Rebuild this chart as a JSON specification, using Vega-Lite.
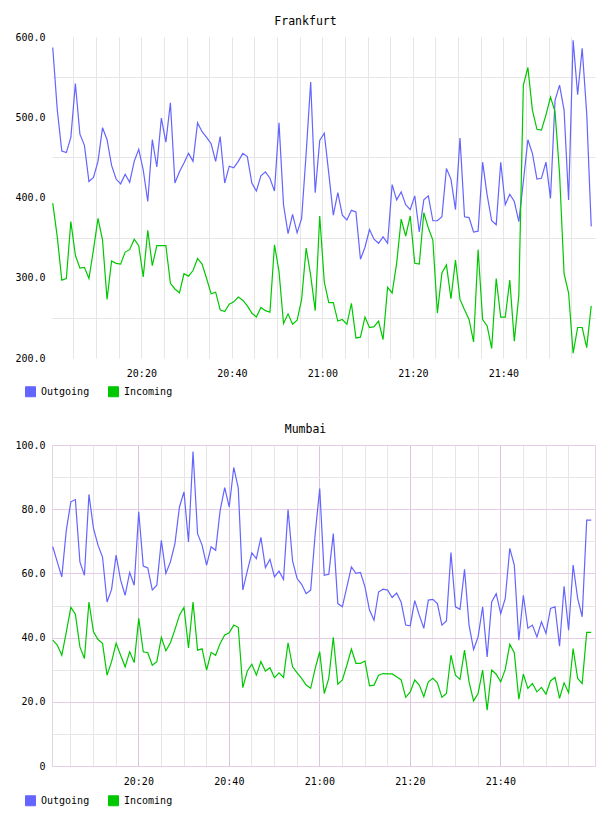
{
"$schema": "https://vega.github.io/schema/vega-lite/v6.json",
"background": "white",
"padding": {"left": 7, "top": 15, "right": 0, "bottom": 0},
"config": {
  "font": "DejaVu Sans Mono",
  "view": {"stroke": null},
  "axis": {"domain": false, "ticks": false, "labelFont": "DejaVu Sans Mono", "labelFontSize": 10, "labelColor": "#000", "title": null, "gridWidth": 1},
  "title": {"font": "DejaVu Sans Mono", "fontSize": 11.5, "fontWeight": "normal", "color": "#000", "anchor": "middle", "dx": -18, "offset": 5, "baseline": "alphabetic"},
  "concat": {"spacing": 24}
},
"resolve": {"scale": {"color": "shared"}, "legend": {"color": "independent"}},
"datasets": {
"fra": [
{"t":"2024-01-01T20:00:25Z","Outgoing":587,"Incoming":393},
{"t":"2024-01-01T20:01:25Z","Outgoing":509,"Incoming":351},
{"t":"2024-01-01T20:02:25Z","Outgoing":458,"Incoming":297},
{"t":"2024-01-01T20:03:25Z","Outgoing":456,"Incoming":299},
{"t":"2024-01-01T20:04:25Z","Outgoing":475,"Incoming":370},
{"t":"2024-01-01T20:05:25Z","Outgoing":542,"Incoming":328},
{"t":"2024-01-01T20:06:25Z","Outgoing":479,"Incoming":312},
{"t":"2024-01-01T20:07:25Z","Outgoing":465,"Incoming":313},
{"t":"2024-01-01T20:08:25Z","Outgoing":420,"Incoming":299},
{"t":"2024-01-01T20:09:25Z","Outgoing":425,"Incoming":335},
{"t":"2024-01-01T20:10:25Z","Outgoing":445,"Incoming":374},
{"t":"2024-01-01T20:11:25Z","Outgoing":487,"Incoming":347},
{"t":"2024-01-01T20:12:25Z","Outgoing":472,"Incoming":273},
{"t":"2024-01-01T20:13:25Z","Outgoing":440,"Incoming":321},
{"t":"2024-01-01T20:14:25Z","Outgoing":423,"Incoming":318},
{"t":"2024-01-01T20:15:25Z","Outgoing":417,"Incoming":317},
{"t":"2024-01-01T20:16:25Z","Outgoing":429,"Incoming":332},
{"t":"2024-01-01T20:17:25Z","Outgoing":419,"Incoming":335},
{"t":"2024-01-01T20:18:25Z","Outgoing":445,"Incoming":348},
{"t":"2024-01-01T20:19:25Z","Outgoing":460,"Incoming":340},
{"t":"2024-01-01T20:20:25Z","Outgoing":434,"Incoming":301},
{"t":"2024-01-01T20:21:25Z","Outgoing":395,"Incoming":359},
{"t":"2024-01-01T20:22:25Z","Outgoing":472,"Incoming":315},
{"t":"2024-01-01T20:23:25Z","Outgoing":438,"Incoming":340},
{"t":"2024-01-01T20:24:25Z","Outgoing":499,"Incoming":340},
{"t":"2024-01-01T20:25:25Z","Outgoing":469,"Incoming":340},
{"t":"2024-01-01T20:26:25Z","Outgoing":518,"Incoming":293},
{"t":"2024-01-01T20:27:25Z","Outgoing":418,"Incoming":286},
{"t":"2024-01-01T20:28:25Z","Outgoing":432,"Incoming":281},
{"t":"2024-01-01T20:29:25Z","Outgoing":443,"Incoming":305},
{"t":"2024-01-01T20:30:25Z","Outgoing":455,"Incoming":302},
{"t":"2024-01-01T20:31:25Z","Outgoing":445,"Incoming":309},
{"t":"2024-01-01T20:32:25Z","Outgoing":493,"Incoming":324},
{"t":"2024-01-01T20:33:25Z","Outgoing":482,"Incoming":317},
{"t":"2024-01-01T20:34:25Z","Outgoing":475,"Incoming":299},
{"t":"2024-01-01T20:35:25Z","Outgoing":467,"Incoming":280},
{"t":"2024-01-01T20:36:25Z","Outgoing":445,"Incoming":282},
{"t":"2024-01-01T20:37:25Z","Outgoing":476,"Incoming":260},
{"t":"2024-01-01T20:38:25Z","Outgoing":418,"Incoming":258},
{"t":"2024-01-01T20:39:25Z","Outgoing":439,"Incoming":267},
{"t":"2024-01-01T20:40:25Z","Outgoing":437,"Incoming":270},
{"t":"2024-01-01T20:41:25Z","Outgoing":445,"Incoming":276},
{"t":"2024-01-01T20:42:25Z","Outgoing":455,"Incoming":272},
{"t":"2024-01-01T20:43:25Z","Outgoing":451,"Incoming":265},
{"t":"2024-01-01T20:44:25Z","Outgoing":418,"Incoming":256},
{"t":"2024-01-01T20:45:25Z","Outgoing":408,"Incoming":251},
{"t":"2024-01-01T20:46:25Z","Outgoing":427,"Incoming":263},
{"t":"2024-01-01T20:47:25Z","Outgoing":432,"Incoming":259},
{"t":"2024-01-01T20:48:25Z","Outgoing":424,"Incoming":257},
{"t":"2024-01-01T20:49:25Z","Outgoing":408,"Incoming":341},
{"t":"2024-01-01T20:50:25Z","Outgoing":493,"Incoming":308},
{"t":"2024-01-01T20:51:25Z","Outgoing":391,"Incoming":243},
{"t":"2024-01-01T20:52:25Z","Outgoing":355,"Incoming":255},
{"t":"2024-01-01T20:53:25Z","Outgoing":379,"Incoming":242},
{"t":"2024-01-01T20:54:25Z","Outgoing":356,"Incoming":247},
{"t":"2024-01-01T20:55:25Z","Outgoing":374,"Incoming":273},
{"t":"2024-01-01T20:56:25Z","Outgoing":455,"Incoming":337},
{"t":"2024-01-01T20:57:25Z","Outgoing":544,"Incoming":303},
{"t":"2024-01-01T20:58:25Z","Outgoing":406,"Incoming":259},
{"t":"2024-01-01T20:59:25Z","Outgoing":471,"Incoming":377},
{"t":"2024-01-01T21:00:25Z","Outgoing":480,"Incoming":295},
{"t":"2024-01-01T21:01:25Z","Outgoing":430,"Incoming":269},
{"t":"2024-01-01T21:02:25Z","Outgoing":378,"Incoming":269},
{"t":"2024-01-01T21:03:25Z","Outgoing":406,"Incoming":246},
{"t":"2024-01-01T21:04:25Z","Outgoing":378,"Incoming":248},
{"t":"2024-01-01T21:05:25Z","Outgoing":372,"Incoming":242},
{"t":"2024-01-01T21:06:25Z","Outgoing":384,"Incoming":268},
{"t":"2024-01-01T21:07:25Z","Outgoing":382,"Incoming":225},
{"t":"2024-01-01T21:08:25Z","Outgoing":323,"Incoming":226},
{"t":"2024-01-01T21:09:25Z","Outgoing":338,"Incoming":251},
{"t":"2024-01-01T21:10:25Z","Outgoing":360,"Incoming":238},
{"t":"2024-01-01T21:11:25Z","Outgoing":348,"Incoming":239},
{"t":"2024-01-01T21:12:25Z","Outgoing":343,"Incoming":246},
{"t":"2024-01-01T21:13:25Z","Outgoing":351,"Incoming":223},
{"t":"2024-01-01T21:14:25Z","Outgoing":343,"Incoming":288},
{"t":"2024-01-01T21:15:25Z","Outgoing":416,"Incoming":281},
{"t":"2024-01-01T21:16:25Z","Outgoing":397,"Incoming":318},
{"t":"2024-01-01T21:17:25Z","Outgoing":407,"Incoming":373},
{"t":"2024-01-01T21:18:25Z","Outgoing":391,"Incoming":352},
{"t":"2024-01-01T21:19:25Z","Outgoing":385,"Incoming":377},
{"t":"2024-01-01T21:20:25Z","Outgoing":402,"Incoming":318},
{"t":"2024-01-01T21:21:25Z","Outgoing":357,"Incoming":317},
{"t":"2024-01-01T21:22:25Z","Outgoing":397,"Incoming":381},
{"t":"2024-01-01T21:23:25Z","Outgoing":402,"Incoming":362},
{"t":"2024-01-01T21:24:25Z","Outgoing":371,"Incoming":347},
{"t":"2024-01-01T21:25:25Z","Outgoing":371,"Incoming":256},
{"t":"2024-01-01T21:26:25Z","Outgoing":376,"Incoming":306},
{"t":"2024-01-01T21:27:25Z","Outgoing":436,"Incoming":316},
{"t":"2024-01-01T21:28:25Z","Outgoing":423,"Incoming":274},
{"t":"2024-01-01T21:29:25Z","Outgoing":385,"Incoming":322},
{"t":"2024-01-01T21:30:25Z","Outgoing":474,"Incoming":273},
{"t":"2024-01-01T21:31:25Z","Outgoing":376,"Incoming":260},
{"t":"2024-01-01T21:32:25Z","Outgoing":375,"Incoming":248},
{"t":"2024-01-01T21:33:25Z","Outgoing":357,"Incoming":220},
{"t":"2024-01-01T21:34:25Z","Outgoing":358,"Incoming":335},
{"t":"2024-01-01T21:35:25Z","Outgoing":444,"Incoming":248},
{"t":"2024-01-01T21:36:25Z","Outgoing":403,"Incoming":240},
{"t":"2024-01-01T21:37:25Z","Outgoing":371,"Incoming":212},
{"t":"2024-01-01T21:38:25Z","Outgoing":366,"Incoming":299},
{"t":"2024-01-01T21:39:25Z","Outgoing":444,"Incoming":251},
{"t":"2024-01-01T21:40:25Z","Outgoing":391,"Incoming":251},
{"t":"2024-01-01T21:41:25Z","Outgoing":404,"Incoming":297},
{"t":"2024-01-01T21:42:25Z","Outgoing":395,"Incoming":221},
{"t":"2024-01-01T21:43:25Z","Outgoing":370,"Incoming":278},
{"t":"2024-01-01T21:44:25Z","Outgoing":420,"Incoming":540},
{"t":"2024-01-01T21:45:25Z","Outgoing":472,"Incoming":562},
{"t":"2024-01-01T21:46:25Z","Outgoing":455,"Incoming":509},
{"t":"2024-01-01T21:47:25Z","Outgoing":423,"Incoming":485},
{"t":"2024-01-01T21:48:25Z","Outgoing":424,"Incoming":484},
{"t":"2024-01-01T21:49:25Z","Outgoing":444,"Incoming":503},
{"t":"2024-01-01T21:50:25Z","Outgoing":399,"Incoming":525},
{"t":"2024-01-01T21:51:25Z","Outgoing":521,"Incoming":507},
{"t":"2024-01-01T21:52:25Z","Outgoing":540,"Incoming":430},
{"t":"2024-01-01T21:53:25Z","Outgoing":509,"Incoming":305},
{"t":"2024-01-01T21:54:25Z","Outgoing":397,"Incoming":281},
{"t":"2024-01-01T21:55:25Z","Outgoing":596,"Incoming":206},
{"t":"2024-01-01T21:56:25Z","Outgoing":528,"Incoming":238},
{"t":"2024-01-01T21:57:25Z","Outgoing":586,"Incoming":238},
{"t":"2024-01-01T21:58:25Z","Outgoing":505,"Incoming":213},
{"t":"2024-01-01T21:59:25Z","Outgoing":364,"Incoming":265}
],
"mum": [
{"t":"2024-01-01T20:01:05Z","Outgoing":68.3,"Incoming":39.2},
{"t":"2024-01-01T20:02:05Z","Outgoing":63.6,"Incoming":37.7},
{"t":"2024-01-01T20:03:05Z","Outgoing":58.9,"Incoming":34.5},
{"t":"2024-01-01T20:04:05Z","Outgoing":73.5,"Incoming":41.8},
{"t":"2024-01-01T20:05:05Z","Outgoing":82.3,"Incoming":49.4},
{"t":"2024-01-01T20:06:05Z","Outgoing":83.0,"Incoming":47.3},
{"t":"2024-01-01T20:07:05Z","Outgoing":63.6,"Incoming":37.1},
{"t":"2024-01-01T20:08:05Z","Outgoing":59.4,"Incoming":33.5},
{"t":"2024-01-01T20:09:05Z","Outgoing":84.6,"Incoming":51.1},
{"t":"2024-01-01T20:10:05Z","Outgoing":74.0,"Incoming":41.8},
{"t":"2024-01-01T20:11:05Z","Outgoing":68.8,"Incoming":39.4},
{"t":"2024-01-01T20:12:05Z","Outgoing":65.1,"Incoming":38.2},
{"t":"2024-01-01T20:13:05Z","Outgoing":51.1,"Incoming":28.3},
{"t":"2024-01-01T20:14:05Z","Outgoing":55.0,"Incoming":32.5},
{"t":"2024-01-01T20:15:05Z","Outgoing":65.7,"Incoming":38.2},
{"t":"2024-01-01T20:16:05Z","Outgoing":57.9,"Incoming":34.5},
{"t":"2024-01-01T20:17:05Z","Outgoing":53.2,"Incoming":30.9},
{"t":"2024-01-01T20:18:05Z","Outgoing":60.3,"Incoming":35.6},
{"t":"2024-01-01T20:19:05Z","Outgoing":56.3,"Incoming":32.2},
{"t":"2024-01-01T20:20:05Z","Outgoing":79.2,"Incoming":46.0},
{"t":"2024-01-01T20:21:05Z","Outgoing":62.3,"Incoming":35.6},
{"t":"2024-01-01T20:22:05Z","Outgoing":61.7,"Incoming":35.3},
{"t":"2024-01-01T20:23:05Z","Outgoing":54.8,"Incoming":31.4},
{"t":"2024-01-01T20:24:05Z","Outgoing":56.3,"Incoming":32.5},
{"t":"2024-01-01T20:25:05Z","Outgoing":70.3,"Incoming":40.1},
{"t":"2024-01-01T20:26:05Z","Outgoing":60.0,"Incoming":35.9},
{"t":"2024-01-01T20:27:05Z","Outgoing":63.6,"Incoming":38.4},
{"t":"2024-01-01T20:28:05Z","Outgoing":69.3,"Incoming":42.5},
{"t":"2024-01-01T20:29:05Z","Outgoing":80.7,"Incoming":47.0},
{"t":"2024-01-01T20:30:05Z","Outgoing":85.4,"Incoming":49.4},
{"t":"2024-01-01T20:31:05Z","Outgoing":69.8,"Incoming":36.8},
{"t":"2024-01-01T20:32:05Z","Outgoing":98.0,"Incoming":51.1},
{"t":"2024-01-01T20:33:05Z","Outgoing":72.4,"Incoming":36.1},
{"t":"2024-01-01T20:34:05Z","Outgoing":68.8,"Incoming":36.5},
{"t":"2024-01-01T20:35:05Z","Outgoing":62.6,"Incoming":29.9},
{"t":"2024-01-01T20:36:05Z","Outgoing":68.3,"Incoming":35.4},
{"t":"2024-01-01T20:37:05Z","Outgoing":67.2,"Incoming":34.5},
{"t":"2024-01-01T20:38:05Z","Outgoing":79.7,"Incoming":38.2},
{"t":"2024-01-01T20:39:05Z","Outgoing":86.7,"Incoming":40.8},
{"t":"2024-01-01T20:40:05Z","Outgoing":80.7,"Incoming":41.5},
{"t":"2024-01-01T20:41:05Z","Outgoing":93.0,"Incoming":43.9},
{"t":"2024-01-01T20:42:05Z","Outgoing":86.6,"Incoming":43.2},
{"t":"2024-01-01T20:43:05Z","Outgoing":54.8,"Incoming":24.4},
{"t":"2024-01-01T20:44:05Z","Outgoing":60.8,"Incoming":29.6},
{"t":"2024-01-01T20:45:05Z","Outgoing":66.4,"Incoming":31.7},
{"t":"2024-01-01T20:46:05Z","Outgoing":64.6,"Incoming":28.3},
{"t":"2024-01-01T20:47:05Z","Outgoing":71.2,"Incoming":32.5},
{"t":"2024-01-01T20:48:05Z","Outgoing":61.8,"Incoming":29.6},
{"t":"2024-01-01T20:49:05Z","Outgoing":64.4,"Incoming":30.6},
{"t":"2024-01-01T20:50:05Z","Outgoing":58.9,"Incoming":27.5},
{"t":"2024-01-01T20:51:05Z","Outgoing":60.7,"Incoming":29.0},
{"t":"2024-01-01T20:52:05Z","Outgoing":58.1,"Incoming":27.6},
{"t":"2024-01-01T20:53:05Z","Outgoing":79.9,"Incoming":38.4},
{"t":"2024-01-01T20:54:05Z","Outgoing":63.9,"Incoming":30.9},
{"t":"2024-01-01T20:55:05Z","Outgoing":58.4,"Incoming":29.0},
{"t":"2024-01-01T20:56:05Z","Outgoing":56.6,"Incoming":27.3},
{"t":"2024-01-01T20:57:05Z","Outgoing":53.7,"Incoming":25.2},
{"t":"2024-01-01T20:58:05Z","Outgoing":54.8,"Incoming":24.2},
{"t":"2024-01-01T20:59:05Z","Outgoing":72.4,"Incoming":30.4},
{"t":"2024-01-01T21:00:05Z","Outgoing":86.4,"Incoming":35.6},
{"t":"2024-01-01T21:01:05Z","Outgoing":59.4,"Incoming":22.6},
{"t":"2024-01-01T21:02:05Z","Outgoing":59.7,"Incoming":27.3},
{"t":"2024-01-01T21:03:05Z","Outgoing":72.4,"Incoming":40.1},
{"t":"2024-01-01T21:04:05Z","Outgoing":50.6,"Incoming":25.5},
{"t":"2024-01-01T21:05:05Z","Outgoing":49.6,"Incoming":26.8},
{"t":"2024-01-01T21:06:05Z","Outgoing":55.8,"Incoming":31.4},
{"t":"2024-01-01T21:07:05Z","Outgoing":62.0,"Incoming":36.4},
{"t":"2024-01-01T21:08:05Z","Outgoing":60.0,"Incoming":32.0},
{"t":"2024-01-01T21:09:05Z","Outgoing":60.3,"Incoming":32.0},
{"t":"2024-01-01T21:10:05Z","Outgoing":55.8,"Incoming":32.7},
{"t":"2024-01-01T21:11:05Z","Outgoing":48.6,"Incoming":25.0},
{"t":"2024-01-01T21:12:05Z","Outgoing":45.4,"Incoming":25.2},
{"t":"2024-01-01T21:13:05Z","Outgoing":54.2,"Incoming":28.3},
{"t":"2024-01-01T21:14:05Z","Outgoing":55.1,"Incoming":28.8},
{"t":"2024-01-01T21:15:05Z","Outgoing":54.8,"Incoming":28.7},
{"t":"2024-01-01T21:16:05Z","Outgoing":52.5,"Incoming":28.7},
{"t":"2024-01-01T21:17:05Z","Outgoing":53.9,"Incoming":27.8},
{"t":"2024-01-01T21:18:05Z","Outgoing":51.0,"Incoming":26.8},
{"t":"2024-01-01T21:19:05Z","Outgoing":43.9,"Incoming":21.4},
{"t":"2024-01-01T21:20:05Z","Outgoing":43.7,"Incoming":23.1},
{"t":"2024-01-01T21:21:05Z","Outgoing":51.5,"Incoming":26.8},
{"t":"2024-01-01T21:22:05Z","Outgoing":47.0,"Incoming":25.2},
{"t":"2024-01-01T21:23:05Z","Outgoing":42.9,"Incoming":21.6},
{"t":"2024-01-01T21:24:05Z","Outgoing":51.7,"Incoming":26.2},
{"t":"2024-01-01T21:25:05Z","Outgoing":51.9,"Incoming":27.3},
{"t":"2024-01-01T21:26:05Z","Outgoing":50.6,"Incoming":25.9},
{"t":"2024-01-01T21:27:05Z","Outgoing":43.9,"Incoming":21.4},
{"t":"2024-01-01T21:28:05Z","Outgoing":45.2,"Incoming":22.6},
{"t":"2024-01-01T21:29:05Z","Outgoing":66.5,"Incoming":34.5},
{"t":"2024-01-01T21:30:05Z","Outgoing":49.6,"Incoming":28.3},
{"t":"2024-01-01T21:31:05Z","Outgoing":48.8,"Incoming":27.0},
{"t":"2024-01-01T21:32:05Z","Outgoing":61.3,"Incoming":36.1},
{"t":"2024-01-01T21:33:05Z","Outgoing":43.9,"Incoming":26.2},
{"t":"2024-01-01T21:34:05Z","Outgoing":36.3,"Incoming":20.3},
{"t":"2024-01-01T21:35:05Z","Outgoing":40.2,"Incoming":22.6},
{"t":"2024-01-01T21:36:05Z","Outgoing":49.6,"Incoming":29.9},
{"t":"2024-01-01T21:37:05Z","Outgoing":34.0,"Incoming":17.4},
{"t":"2024-01-01T21:38:05Z","Outgoing":51.1,"Incoming":29.9},
{"t":"2024-01-01T21:39:05Z","Outgoing":53.7,"Incoming":28.6},
{"t":"2024-01-01T21:40:05Z","Outgoing":47.5,"Incoming":26.2},
{"t":"2024-01-01T21:41:05Z","Outgoing":52.2,"Incoming":30.1},
{"t":"2024-01-01T21:42:05Z","Outgoing":67.8,"Incoming":37.9},
{"t":"2024-01-01T21:43:05Z","Outgoing":62.6,"Incoming":35.3},
{"t":"2024-01-01T21:44:05Z","Outgoing":39.2,"Incoming":20.8},
{"t":"2024-01-01T21:45:05Z","Outgoing":53.2,"Incoming":28.6},
{"t":"2024-01-01T21:46:05Z","Outgoing":42.9,"Incoming":24.2},
{"t":"2024-01-01T21:47:05Z","Outgoing":43.9,"Incoming":25.7},
{"t":"2024-01-01T21:48:05Z","Outgoing":40.2,"Incoming":23.1},
{"t":"2024-01-01T21:49:05Z","Outgoing":44.9,"Incoming":24.5},
{"t":"2024-01-01T21:50:05Z","Outgoing":41.3,"Incoming":22.4},
{"t":"2024-01-01T21:51:05Z","Outgoing":49.1,"Incoming":26.5},
{"t":"2024-01-01T21:52:05Z","Outgoing":49.6,"Incoming":27.6},
{"t":"2024-01-01T21:53:05Z","Outgoing":37.3,"Incoming":21.1},
{"t":"2024-01-01T21:54:05Z","Outgoing":56.0,"Incoming":25.9},
{"t":"2024-01-01T21:55:05Z","Outgoing":42.3,"Incoming":22.8},
{"t":"2024-01-01T21:56:05Z","Outgoing":62.6,"Incoming":36.6},
{"t":"2024-01-01T21:57:05Z","Outgoing":52.2,"Incoming":27.3},
{"t":"2024-01-01T21:58:05Z","Outgoing":46.5,"Incoming":25.7},
{"t":"2024-01-01T21:59:05Z","Outgoing":76.6,"Incoming":41.6},
{"t":"2024-01-01T22:00:05Z","Outgoing":76.6,"Incoming":41.6}
]
},
"vconcat": [
{
  "title": "Frankfurt",
  "width": 543, "height": 321,
  "data": {"name": "fra"},
  "transform": [{"fold": ["Outgoing", "Incoming"], "as": ["dir", "v"]}],
  "mark": {"type": "line", "strokeWidth": 1.2},
  "encoding": {
    "x": {"field": "t", "type": "temporal",
      "scale": {"type": "utc", "domain": [1704139215000, 1704146415000]},
      "axis": {"values": [1704139500000,1704139800000,1704140100000,1704140400000,1704140700000,1704141000000,1704141300000,1704141600000,1704141900000,1704142200000,1704142500000,1704142800000,1704143100000,1704143400000,1704143700000,1704144000000,1704144300000,1704144600000,1704144900000,1704145200000,1704145500000,1704145800000,1704146100000],
        "labelExpr": "utcminutes(datum.value) % 20 === 0 ? utcFormat(datum.value, '%H:%M') : ''",
        "gridColor": "#e6e6e6", "labelPadding": 10, "labelOverlap": false, "labelFlush": false}},
    "y": {"field": "v", "type": "quantitative",
      "scale": {"domain": [200, 600], "nice": false, "zero": false},
      "axis": {"values": [200,250,300,350,400,450,500,550,600],
        "labelExpr": "datum.value % 100 === 0 ? format(datum.value, '.1f') : ''",
        "gridColor": {"condition": {"test": "datum.value % 100 === 0", "value": "transparent"}, "value": "#e6e6e6"},
        "labelPadding": 7, "minExtent": 44, "maxExtent": 44, "labelOverlap": false}},
    "color": {"field": "dir", "type": "nominal",
      "scale": {"domain": ["Outgoing", "Incoming"], "range": ["#6464ff", "#00c800"]},
      "legend": {"orient": "none", "legendX": -27, "legendY": 349, "direction": "horizontal", "title": null,
        "symbolType": "square", "symbolSize": 100, "labelFont": "DejaVu Sans Mono", "labelFontSize": 10, "labelColor": "#000",
        "columnPadding": 16, "labelOffset": 5,
        "encode": {"symbols": {"update": {"fill": {"signal": "datum.value === 'Outgoing' ? '#6464ff' : '#00c800'"}, "stroke": {"value": "#888888"}, "strokeWidth": {"value": 1}, "opacity": {"value": 1}}}}}}
  }
},
{
  "title": "Mumbai",
  "width": 543, "height": 321,
  "view": {"stroke": "#e4d4e4"},
  "data": {"name": "mum"},
  "transform": [{"fold": ["Outgoing", "Incoming"], "as": ["dir", "v"]}],
  "mark": {"type": "line", "strokeWidth": 1.2},
  "encoding": {
    "x": {"field": "t", "type": "temporal",
      "scale": {"type": "utc", "domain": [1704139255000, 1704146455000]},
      "axis": {"values": [1704139500000,1704139800000,1704140100000,1704140400000,1704140700000,1704141000000,1704141300000,1704141600000,1704141900000,1704142200000,1704142500000,1704142800000,1704143100000,1704143400000,1704143700000,1704144000000,1704144300000,1704144600000,1704144900000,1704145200000,1704145500000,1704145800000,1704146100000],
        "labelExpr": "utcminutes(datum.value) % 20 === 0 ? utcFormat(datum.value, '%H:%M') : ''",
        "gridColor": {"condition": {"test": "utcminutes(datum.value) % 20 === 0", "value": "#dcc4dc"}, "value": "#e6e6e6"},
        "labelPadding": 10, "labelOverlap": false, "labelFlush": false}},
    "y": {"field": "v", "type": "quantitative",
      "scale": {"domain": [0, 100], "nice": false},
      "axis": {"values": [0,10,20,30,40,50,60,70,80,90,100],
        "labelExpr": "datum.value % 20 === 0 ? (datum.value === 0 ? '0' : format(datum.value, '.1f')) : ''",
        "gridColor": {"condition": {"test": "datum.value % 20 === 0", "value": "#e6cce6"}, "value": "#e6e6e6"},
        "labelPadding": 7, "minExtent": 44, "maxExtent": 44, "labelOverlap": false}},
    "color": {"field": "dir", "type": "nominal",
      "scale": {"domain": ["Outgoing", "Incoming"], "range": ["#6464ff", "#00c800"]},
      "legend": {"orient": "none", "legendX": -27, "legendY": 350, "direction": "horizontal", "title": null,
        "symbolType": "square", "symbolSize": 100, "labelFont": "DejaVu Sans Mono", "labelFontSize": 10, "labelColor": "#000",
        "columnPadding": 16, "labelOffset": 5,
        "encode": {"symbols": {"update": {"fill": {"signal": "datum.value === 'Outgoing' ? '#6464ff' : '#00c800'"}, "stroke": {"value": "#888888"}, "strokeWidth": {"value": 1}, "opacity": {"value": 1}}}}}}
  }
}
]
}
